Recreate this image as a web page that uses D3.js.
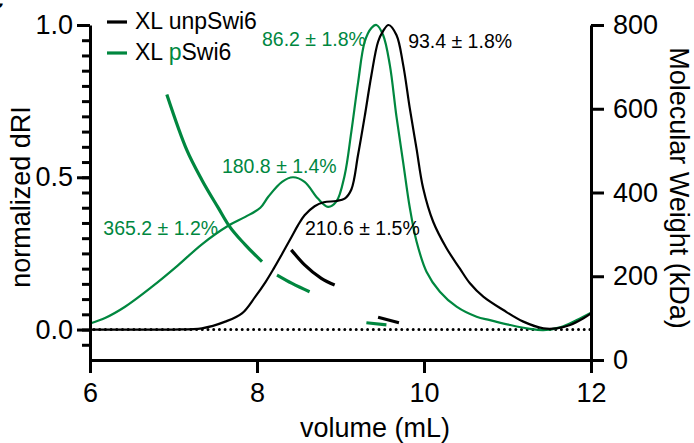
<!DOCTYPE html>
<html>
<head>
<meta charset="utf-8">
<script src="https://cdn.jsdelivr.net/npm/d3@7"></script>
<style>
body { margin: 0; background: #fff; }
text { font-family: "Liberation Sans", Arial, sans-serif; }
</style>
</head>
<body>
<script>
// DATA

// dRI traces (volume in mL, normalized dRI)
const volUnp = [6.0, 6.5, 7.0, 7.34, 7.62, 7.82, 7.98, 8.10, 8.20, 8.30, 8.415, 8.49, 8.57, 8.69, 8.80, 8.95, 9.05, 9.13, 9.21, 9.29, 9.37, 9.45, 9.51, 9.575, 9.67, 9.75, 9.83, 9.91, 9.99, 10.11, 10.27, 10.43, 10.55, 10.71, 10.95, 11.19, 11.43, 11.59, 11.75, 11.91, 12.0];
const driUnp = [0, 0, 0, 0.004, 0.026, 0.053, 0.108, 0.155, 0.20, 0.248, 0.305, 0.342, 0.375, 0.405, 0.418, 0.422, 0.43, 0.46, 0.573, 0.70, 0.835, 0.945, 0.98, 1.0, 0.967, 0.87, 0.726, 0.595, 0.464, 0.354, 0.267, 0.20, 0.152, 0.108, 0.064, 0.026, 0.004, 0.004, 0.015, 0.037, 0.053];

const volP = [6.0, 6.18, 6.42, 6.74, 7.05, 7.34, 7.65, 7.86, 8.04, 8.135, 8.30, 8.43, 8.57, 8.73, 8.85, 8.95, 9.05, 9.13, 9.21, 9.29, 9.37, 9.43, 9.51, 9.59, 9.67, 9.75, 9.83, 9.91, 10.03, 10.19, 10.39, 10.63, 10.79, 11.03, 11.27, 11.43, 11.63, 11.83, 12.0];
const driP = [0.02, 0.038, 0.075, 0.14, 0.21, 0.28, 0.34, 0.37, 0.40, 0.436, 0.485, 0.50, 0.485, 0.43, 0.403, 0.42, 0.507, 0.65, 0.81, 0.945, 0.99, 1.0, 0.967, 0.87, 0.70, 0.55, 0.40, 0.29, 0.19, 0.124, 0.075, 0.042, 0.031, 0.015, 0.002, -0.002, 0.007, 0.031, 0.055];

// molar mass segments (volume in mL, kDa)
const mwUnpVol1 = [8.41, 8.57, 8.77, 8.93];
const mwUnp1 = [263, 227, 195, 179];
const mwUnpVol2 = [9.45, 9.70];
const mwUnp2 = [102, 89];
const mwPVol1 = [6.92, 7.16, 7.34, 7.54, 7.66, 7.86, 8.06];
const mwP1 = [634, 501, 430, 362, 322, 275, 235];
const mwPVol2 = [8.24, 8.42, 8.63];
const mwP2 = [203, 183, 163];
const mwPVol3 = [9.31, 9.55];
const mwP3 = [89, 84];

// labels
const legendLabels = ["XL unpSwi6", "XL pSwi6"];
const annTexts = ["86.2 ± 1.8%", "93.4 ± 1.8%", "180.8 ± 1.4%", "365.2 ± 1.2%", "210.6 ± 1.5%"];
const annVol = [8.06, 9.81, 7.58, 6.16, 8.575];
const annDri = [0.931, 0.924, 0.514, 0.310, 0.310];
const annSeries = ["p", "unp", "p", "p", "unp"];

const xTicks = [6, 8, 10, 12];
const yMajor = [0, 0.5, 1.0];
const yMinor = d3.range(-0.05, 1.0001, 0.05);
const rTicks = [0, 200, 400, 600, 800];

// MAKE THE CHART

const W = 694;
const H = 443;
const green = "#00873f";
const colors = { unp: "#000", p: green };

const svg = d3.select("body")
  .append("svg")
  .attr("width", W)
  .attr("height", H);

const xScale = d3.scaleLinear().domain([6, 12]).range([90, 591]);
const yScale = d3.scaleLinear().domain([-0.1, 1.0]).range([360, 25]);
const rScale = d3.scaleLinear().domain([0, 800]).range([360, 25]);

// zero line
svg.append("line")
  .attr("x1", xScale(6) + 4).attr("x2", xScale(12))
  .attr("y1", yScale(0)).attr("y2", yScale(0))
  .attr("stroke", "#000")
  .attr("stroke-width", 3)
  .attr("stroke-linecap", "round")
  .attr("stroke-dasharray", "0 5.7");

const driLine = d3.line()
  .x(d => xScale(d[0]))
  .y(d => yScale(d[1]))
  .curve(d3.curveCatmullRom.alpha(0.5));

const mwLine = d3.line()
  .x(d => xScale(d[0]))
  .y(d => rScale(d[1]))
  .curve(d3.curveMonotoneX);

svg.append("path")
  .datum(d3.zip(volP, driP))
  .attr("d", driLine)
  .attr("fill", "none")
  .attr("stroke", green)
  .attr("stroke-width", 2.2);

svg.append("path")
  .datum(d3.zip(volUnp, driUnp))
  .attr("d", driLine)
  .attr("fill", "none")
  .attr("stroke", "#000")
  .attr("stroke-width", 2.2);

const mwSegs = [
  { c: green, d: d3.zip(mwPVol1, mwP1) },
  { c: green, d: d3.zip(mwPVol2, mwP2) },
  { c: green, d: d3.zip(mwPVol3, mwP3) },
  { c: "#000", d: d3.zip(mwUnpVol1, mwUnp1) },
  { c: "#000", d: d3.zip(mwUnpVol2, mwUnp2) }
];

svg.selectAll(".mw")
  .data(mwSegs)
  .enter()
  .append("path")
  .attr("class", "mw")
  .attr("d", s => mwLine(s.d))
  .attr("fill", "none")
  .attr("stroke", s => s.c)
  .attr("stroke-width", 3.2);

// AXES

function styleAxis(g) {
  g.selectAll("path, line").attr("stroke", "#000").attr("stroke-width", 3);
  g.selectAll("text").attr("font-family", "Liberation Sans, Arial, sans-serif").attr("font-size", 27).attr("fill", "#000");
}

svg.append("g")
  .attr("transform", "translate(90,0)")
  .call(d3.axisLeft(yScale).tickValues(yMinor).tickSize(8).tickSizeOuter(0).tickFormat(""))
  .call(styleAxis);

svg.append("g")
  .attr("transform", "translate(90,0)")
  .call(d3.axisLeft(yScale).tickValues(yMajor).tickSize(13).tickSizeOuter(0).tickPadding(4).tickFormat(d3.format(".1f")))
  .call(styleAxis)
  .call(g => g.select(".domain").remove());

svg.append("g")
  .attr("transform", "translate(0,360)")
  .call(d3.axisBottom(xScale).tickValues(xTicks).tickSize(13).tickSizeOuter(0).tickPadding(10).tickFormat(d3.format("d")))
  .call(styleAxis);

svg.append("g")
  .attr("transform", "translate(591,0)")
  .call(d3.axisRight(rScale).tickValues(rTicks).tickSize(13).tickSizeOuter(0).tickPadding(9))
  .call(styleAxis);

// axis titles
svg.append("text")
  .text("volume (mL)")
  .attr("x", 375).attr("y", 437)
  .attr("text-anchor", "middle")
  .attr("font-size", 27);

svg.append("text")
  .text("normalized dRI")
  .attr("transform", "translate(30,197) rotate(-90)")
  .attr("text-anchor", "middle")
  .attr("font-size", 27);

svg.append("text")
  .text("Molecular Weight (kDa)")
  .attr("transform", "translate(670,188) rotate(90)")
  .attr("text-anchor", "middle")
  .attr("font-size", 27);

// LEGEND
const legend = svg.append("g");
[0, 1].forEach(i => {
  const y = 22 + i * 31;
  legend.append("line")
    .attr("x1", 107).attr("x2", 127)
    .attr("y1", y).attr("y2", y)
    .attr("stroke", i === 0 ? "#000" : green)
    .attr("stroke-width", 3.2);
  const t = legend.append("text")
    .attr("x", 135).attr("y", y + 7)
    .attr("font-size", 23);
  if (i === 0) {
    t.text(legendLabels[0]);
  } else {
    t.append("tspan").text("XL ");
    t.append("tspan").attr("fill", green).text("p");
    t.append("tspan").text("Swi6");
  }
});

// ANNOTATIONS
svg.selectAll(".ann")
  .data(annTexts)
  .enter()
  .append("text")
  .attr("class", "ann")
  .text(d => d)
  .attr("x", (d, i) => xScale(annVol[i]))
  .attr("y", (d, i) => yScale(annDri[i]))
  .attr("font-size", 19.5)
  .attr("fill", (d, i) => colors[annSeries[i]]);

// cropped panel letter in the corner
svg.append("text")
  .text("c")
  .attr("x", -13).attr("y", 9)
  .attr("font-size", 30)
  .attr("font-weight", "bold");
</script>
</body>
</html>
